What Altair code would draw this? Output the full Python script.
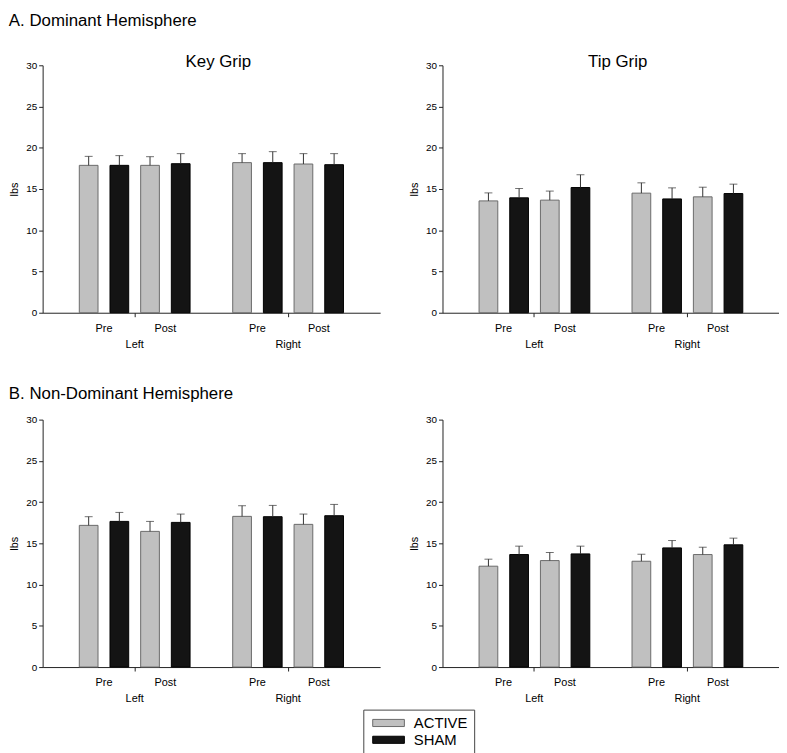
import altair as alt
import pandas as pd

# ---- data (order: Left Pre ACTIVE, Left Pre SHAM, Left Post ACTIVE, Left Post SHAM, Right ...) ----
sides = ["Left"] * 4 + ["Right"] * 4
times = ["Pre", "Pre", "Post", "Post"] * 2
groups = ["ACTIVE", "SHAM"] * 4

key_dom_mean = [17.87, 17.87, 17.87, 18.07, 18.20, 18.20, 18.03, 17.95]
key_dom_se = [1.09, 1.18, 1.05, 1.22, 1.09, 1.33, 1.26, 1.34]
tip_dom_mean = [13.56, 13.93, 13.65, 15.18, 14.50, 13.80, 14.05, 14.45]
tip_dom_se = [0.97, 1.13, 1.10, 1.55, 1.25, 1.34, 1.17, 1.14]
key_non_mean = [17.18, 17.66, 16.45, 17.54, 18.27, 18.23, 17.30, 18.35]
key_non_se = [1.05, 1.09, 1.21, 1.01, 1.29, 1.37, 1.25, 1.37]
tip_non_mean = [12.23, 13.64, 12.91, 13.72, 12.83, 14.45, 13.64, 14.82]
tip_non_se = [0.85, 1.02, 0.98, 0.94, 0.85, 0.89, 0.89, 0.81]

side_order = ["Left", "Right"]
time_order = ["Pre", "Post"]
group_order = ["ACTIVE", "SHAM"]
sub_order = [f"{t} {g}" for t in time_order for g in group_order]
y_ticks = [0, 5, 10, 15, 20, 25, 30]

FONT = "Liberation Sans"
H = 250


def panel(mean, se, width, title=None):
    df = pd.DataFrame({
        "side": sides, "time": times, "group": groups,
        "mean": mean, "upper": [m + s for m, s in zip(mean, se)],
    })
    df["sub"] = df["time"] + " " + df["group"]
    lab = pd.DataFrame({"side": [s for s in side_order for _ in time_order],
                        "time": time_order * len(side_order)})

    x = alt.X("side:N", sort=side_order,
              scale=alt.Scale(paddingInner=0.2, paddingOuter=0.2),
              axis=alt.Axis(title=None, labelAngle=0, labelPadding=22, tickSize=4,
                            labelFontSize=11, labelFont=FONT, labelColor="black",
                            domainColor="#222", tickColor="#222"))
    xo = alt.XOffset("sub:N", sort=sub_order,
                     scale=alt.Scale(paddingInner=0.39, paddingOuter=0.195))
    y = alt.Y("mean:Q", scale=alt.Scale(domain=[0, 30], nice=False),
              axis=alt.Axis(values=y_ticks, title="lbs", titleFontSize=11,
                            titleFontWeight="normal", titleFont=FONT, titleColor="black",
                            titlePadding=6, labelFontSize=10, labelFont=FONT,
                            labelColor="black", tickSize=4, domainColor="#222",
                            tickColor="#222", grid=False))
    color = alt.Color("group:N", sort=group_order,
                      scale=alt.Scale(domain=group_order, range=["#c0c0c0", "#141414"]),
                      legend=alt.Legend(title=None, orient="none", legendX=324, legendY=651,
                                        strokeColor="#444", padding=6, fillColor="white",
                                        labelFontSize=15, labelFont=FONT, labelColor="black",
                                        symbolType="M-1,-0.9H7V0.9H-1Z", symbolSize=64,
                                        symbolStrokeColor="#333", symbolStrokeWidth=1,
                                        rowPadding=1, labelOffset=30))
    stroke = alt.Stroke("group:N", sort=group_order,
                        scale=alt.Scale(domain=group_order, range=["#6a6a6a", "#000000"]),
                        legend=None)

    base = alt.Chart(df)
    bars = base.mark_bar(strokeWidth=1).encode(x=x, xOffset=xo, y=y, color=color, stroke=stroke)
    rule = base.mark_rule(color="#333", strokeWidth=1).encode(
        x=x, xOffset=xo, y="mean:Q", y2="upper:Q")
    cap = base.mark_tick(color="#333", size=8, thickness=1).encode(
        x=x, xOffset=xo, y="upper:Q")
    lab_layers = []
    for t, dx in zip(time_order, [-31, 31]):
        lab_layers.append(
            alt.Chart(lab[lab["time"] == t]).mark_text(
                fontSize=11, font=FONT, color="black", baseline="middle", dx=dx
            ).encode(x=x, y=alt.value(H + 16), text="time:N")
        )
    props = dict(width=width, height=H)
    if title:
        props["title"] = alt.Title(title, fontSize=17, fontWeight="normal", font=FONT,
                                   color="black", offset=-11, dx=7)
    return alt.layer(bars, rule, cap, *lab_layers).properties(**props)


row_a = alt.hconcat(
    panel(key_dom_mean, key_dom_se, 341, "Key Grip"),
    panel(tip_dom_mean, tip_dom_se, 340, "Tip Grip"),
    spacing=28,
    title=alt.Title("A. Dominant Hemisphere", anchor="start", fontSize=17,
                    fontWeight="normal", font=FONT, color="black", offset=24),
)
row_b = alt.hconcat(
    panel(key_non_mean, key_non_se, 341),
    panel(tip_non_mean, tip_non_se, 340),
    spacing=28,
    title=alt.Title("B. Non-Dominant Hemisphere", anchor="start", fontSize=17,
                    fontWeight="normal", font=FONT, color="black", offset=12),
)

chart = alt.vconcat(row_a, row_b, spacing=36).properties(padding=0).configure(
    font=FONT
).configure_view(stroke=None)

chart.save("out.html", embed_options={"renderer": "svg", "actions": False})
